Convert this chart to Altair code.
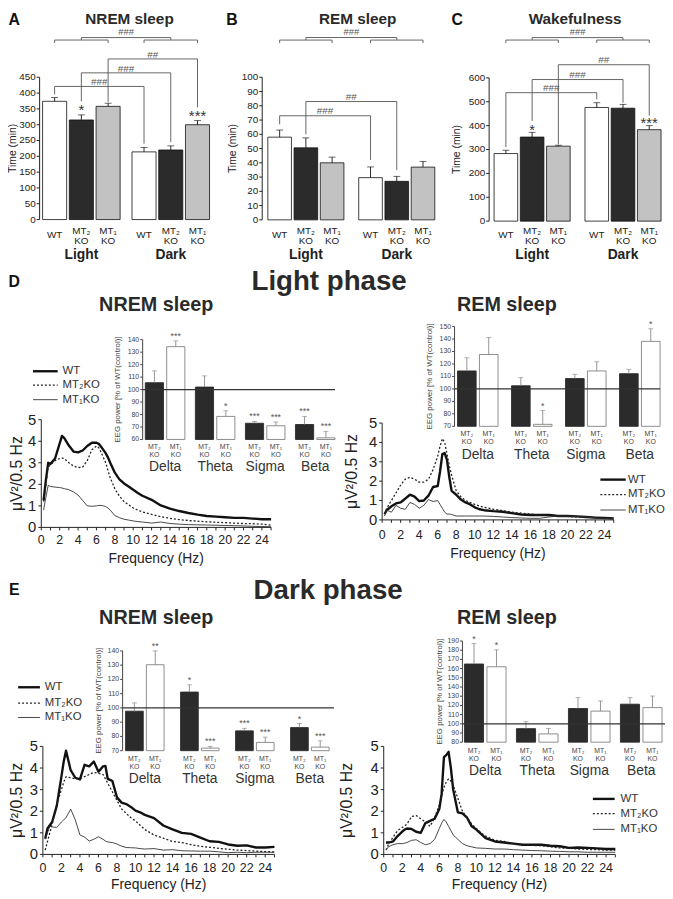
import altair as alt
import pandas as pd

W, H = 665, 891
MARGIN = 8
FONT = "Liberation Sans"
INK = "#222222"


def px(v):
    return v - MARGIN


# ---------------- data: sleep time (min) ----------------
PHASES = ["Light", "Dark"]
GENOTYPES = ["WT", "MT2KO", "MT1KO"]
GENO_TEXT = {"WT": "WT", "MT2KO": "MT₂\nKO", "MT1KO": "MT₁\nKO"}
BAR_FILL = {"WT": "#ffffff", "MT2KO": "#2b2b2b", "MT1KO": "#c2c2c2"}

NREM_TIME = [374, 315, 358, 214, 220, 300]
NREM_SEM = [12, 16, 10, 14, 13, 13]
NREM_SIG = ["", "*", "", "", "", "***"]
REM_TIME = [58, 50.5, 40, 29.6, 27, 37]
REM_SEM = [5, 7, 4, 7.5, 3.5, 4]
REM_SIG = ["", "", "", "", "", ""]
WAKE_TIME = [283, 352, 314, 476, 473, 383]
WAKE_SEM = [14, 20, 4, 20, 16, 17]
WAKE_SIG = ["", "*", "", "", "", "***"]

NREM_COMP = [("WT", "###"), ("MT2KO", "###"), ("MT1KO", "##")]
REM_COMP = [("WT", "###"), ("MT2KO", "##")]
WAKE_COMP = [("WT", "###"), ("MT2KO", "###"), ("MT1KO", "##")]

# ---------------- data: EEG power, % of WT control ----------------
BANDS = ["Delta", "Theta", "Sigma", "Beta"]
KO = ["MT2KO", "MT1KO"]
KO_TEXT = {"MT2KO": "MT₂\nKO", "MT1KO": "MT₁\nKO"}
KO_FILL = {"MT2KO": "#2b2b2b", "MT1KO": "#ffffff"}
KO_STROKE = {"MT2KO": "#2b2b2b", "MT1KO": "#808080"}

LN_MT2 = [105.5, 102, 73, 72]
LN_MT2_SEM = [9.5, 9, 1.5, 6.5]
LN_MT2_SIG = ["", "", "***", "***"]
LN_MT1 = [134.4, 78.5, 71, 61.3]
LN_MT1_SEM = [4.6, 4.5, 3, 5.2]
LN_MT1_SIG = ["***", "*", "***", "***"]

LR_MT2 = [114.4, 102.5, 108.3, 112.2]
LR_MT2_SEM = [10.6, 6.5, 3.4, 3.5]
LR_MT2_SIG = ["", "", "", ""]
LR_MT1 = [127.6, 71.6, 114.4, 138.1]
LR_MT1_SEM = [13.7, 11.1, 7.3, 10.1]
LR_MT1_SIG = ["", "*", "", "*"]

DN_MT2 = [97.7, 111.1, 83.9, 86.2]
DN_MT2_SEM = [5.8, 5.1, 1.8, 2.8]
DN_MT2_SIG = ["", "*", "***", "*"]
DN_MT1 = [130.3, 71.8, 75.8, 72.5]
DN_MT1_SEM = [9.7, 1.2, 3.7, 4.4]
DN_MT1_SIG = ["**", "***", "***", "***"]

DR_MT2 = [165, 94.7, 116.6, 121.3]
DR_MT2_SEM = [22.2, 7.6, 11.8, 7.1]
DR_MT2_SIG = ["*", "", "", ""]
DR_MT1 = [162, 89, 113.8, 117.6]
DR_MT1_SEM = [18.4, 6, 11, 12.6]
DR_MT1_SIG = ["*", "", "", ""]

# ---------------- data: EEG spectra (uV^2 / 0.5 Hz) ----------------
FREQ = [0.25, 0.5, 0.75, 1, 1.5, 2, 2.25, 2.5, 3, 3.5, 4, 4.5, 5, 5.5, 6, 6.25,
        6.5, 6.75, 7, 7.25, 7.5, 8, 8.5, 9, 9.5, 10, 10.5, 11, 12, 13, 14, 15,
        16, 17, 18, 19, 20, 21, 22, 23, 24, 25]
SERIES = ["WT", "MT2KO", "MT1KO"]
SERIES_TEXT = {"WT": "WT", "MT2KO": "MT₂KO", "MT1KO": "MT₁KO"}

LN_WT = [1.25, 2.2, 3.0, 2.95, 3.2, 3.9, 4.25, 4.15, 3.8, 3.52, 3.48, 3.57, 3.78, 3.93,
         3.93, 3.88, 3.75, 3.6, 3.45, 3.25, 3.0, 2.54, 2.23, 2.04, 1.9, 1.75, 1.6, 1.47,
         1.28, 1.02, 0.87, 0.76, 0.67, 0.59, 0.53, 0.5, 0.47, 0.44, 0.44, 0.41, 0.38, 0.38]
LN_M2 = [1.2, 2.0, 2.8, 2.9, 3.1, 3.2, 3.22, 3.2, 3.0, 2.85, 2.78, 2.8, 3.1, 3.6,
         3.78, 3.7, 3.5, 3.25, 3.0, 2.65, 2.3, 1.8, 1.45, 1.2, 1.05, 0.9, 0.8, 0.72,
         0.6, 0.5, 0.42, 0.36, 0.32, 0.29, 0.26, 0.24, 0.22, 0.2, 0.18, 0.17, 0.15, 0.1]
LN_M1 = [0.8, 1.4, 1.95, 1.9, 1.87, 1.85, 1.83, 1.8, 1.75, 1.65, 1.5, 1.25, 1.0, 0.98,
         1.0, 1.02, 1.02, 1.0, 0.97, 0.9, 0.8, 0.55, 0.45, 0.38, 0.34, 0.3, 0.27, 0.25,
         0.2, 0.25, 0.18, 0.15, 0.13, 0.12, 0.11, 0.1, 0.09, 0.08, 0.07, 0.05, 0.04, 0.03]

LR_WT = [0.3, 0.5, 0.6, 0.7, 0.85, 0.9, 1.0, 1.1, 1.3, 1.2, 0.97, 1.0, 1.25, 1.7,
         1.75, 2.5, 3.4, 3.45, 3.1, 2.2, 1.5, 1.3, 1.05, 0.9, 0.8, 0.65, 0.55, 0.5,
         0.45, 0.42, 0.35, 0.28, 0.25, 0.25, 0.25, 0.2, 0.2, 0.18, 0.15, 0.12, 0.1, 0.08]
LR_M2 = [0.3, 0.6, 0.8, 1.0, 1.4, 1.8, 1.95, 2.1, 2.2, 2.1, 1.95, 1.95, 2.1, 2.6,
         3.3, 3.8, 4.2, 4.0, 3.4, 2.8, 2.3, 1.5, 1.2, 1.0, 0.9, 0.8, 0.72, 0.65,
         0.55, 0.48, 0.4, 0.35, 0.3, 0.25, 0.22, 0.2, 0.18, 0.15, 0.14, 0.12, 0.1, 0.1]
LR_M1 = [0.2, 0.5, 0.45, 0.4, 0.75, 0.6, 0.57, 0.55, 0.9, 0.8, 0.6, 0.75, 1.05, 0.95,
         1.0, 0.8, 0.6, 0.4, 0.3, 0.3, 0.28, 0.2, 0.2, 0.2, 0.2, 0.2, 0.2, 0.2,
         0.18, 0.15, 0.12, 0.1, 0.08, 0.08, 0.15, 0.2, 0.2, 0.18, 0.15, 0.1, 0.08, 0.05]

DN_WT = [0.73, 1.2, 1.35, 1.5, 2.25, 3.6, 4.3, 4.8, 3.9, 3.55, 3.47, 4.15, 4.08, 4.3,
         3.83, 3.95, 4.08, 4.1, 3.5, 3.45, 3.4, 2.64, 2.4, 2.33, 2.2, 2.03, 1.95, 1.83,
         1.68, 1.34, 1.16, 1.0, 0.95, 0.78, 0.61, 0.58, 0.46, 0.4, 0.42, 0.32, 0.32, 0.35]
DN_M2 = [0.2, 0.6, 1.0, 1.4, 2.3, 3.0, 3.35, 3.6, 3.55, 3.5, 3.5, 3.6, 3.7, 3.8,
         3.75, 3.72, 3.7, 3.5, 3.3, 3.1, 2.9, 2.5, 2.1, 1.9, 1.7, 1.55, 1.35, 1.15,
         0.9, 0.75, 0.6, 0.55, 0.45, 0.38, 0.33, 0.28, 0.24, 0.2, 0.18, 0.15, 0.13, 0.12]
DN_M1 = [0.7, 1.0, 1.3, 1.27, 1.25, 1.5, 1.6, 1.7, 2.1, 1.6, 0.9, 0.8, 0.62, 0.7,
         0.82, 0.76, 0.7, 0.62, 0.58, 0.56, 0.55, 0.48, 0.38, 0.32, 0.31, 0.3, 0.27, 0.25,
         0.27, 0.2, 0.22, 0.17, 0.16, 0.15, 0.15, 0.12, 0.08, 0.1, 0.08, 0.1, 0.1, 0.1]

DR_WT = [0.55, 0.55, 0.57, 0.6, 0.85, 1.05, 1.15, 1.2, 1.18, 1.05, 1.0, 1.45, 1.55, 1.65,
         2.1, 2.8, 4.5, 4.6, 4.75, 4.0, 3.0, 1.95, 1.9, 1.7, 1.3, 1.15, 0.95, 0.75,
         0.6, 0.55, 0.5, 0.45, 0.45, 0.45, 0.4, 0.38, 0.3, 0.32, 0.3, 0.28, 0.25, 0.25]
DR_M2 = [0.2, 0.45, 0.62, 0.8, 1.1, 1.25, 1.32, 1.4, 1.75, 1.8, 1.65, 1.5, 1.3, 1.7,
         2.3, 2.7, 3.1, 3.35, 3.5, 3.4, 3.2, 2.6, 2.0, 1.7, 1.4, 1.2, 1.0, 0.85,
         0.65, 0.6, 0.5, 0.45, 0.42, 0.4, 0.35, 0.3, 0.28, 0.25, 0.23, 0.22, 0.2, 0.2]
DR_M1 = [0.2, 0.35, 0.4, 0.45, 0.5, 0.5, 0.52, 0.55, 0.65, 0.68, 0.55, 0.45, 0.5, 0.7,
         1.2, 1.45, 1.62, 1.5, 1.3, 1.1, 0.9, 0.7, 0.5, 0.4, 0.35, 0.3, 0.29, 0.28,
         0.25, 0.25, 0.22, 0.2, 0.18, 0.17, 0.15, 0.14, 0.12, 0.12, 0.1, 0.1, 0.1, 0.1]

LINE_STYLE = {
    "WT": dict(color="#111111", strokeWidth=2.4),
    "MT2KO": dict(color="#222222", strokeWidth=1.3, strokeDash=[2, 2]),
    "MT1KO": dict(color="#333333", strokeWidth=0.9),
}

HIDDEN_AXIS = alt.Axis(labels=False, ticks=False, domain=False, grid=False, title="")


# ---------------- hand-built axes (drawn through the panel scales) ----------------
def y_axis(ydom, y0, ytop, axis_x, values, tick_len, label_size, label_gap,
           title, title_size, title_x, color):
    ys = alt.Scale(domain=ydom, range=[px(y0), px(ytop)], nice=False, zero=False)
    xs = alt.Scale(domain=[0, 1], range=[px(axis_x), px(axis_x) + 1], nice=False, zero=False)
    ticks = pd.DataFrame({"v": values, "lab": [f"{v:g}" for v in values]})
    ticks["a"] = -tick_len
    ticks["b"] = 0.0
    ticks["c"] = -(tick_len + label_gap)
    dom = pd.DataFrame({"a": [0.0], "lo": [ydom[0]], "hi": [ydom[1]]})
    ttl = pd.DataFrame({"a": [title_x], "v": [(ydom[0] + ydom[1]) / 2], "t": [title]})

    def X(f):
        return alt.X(f, scale=xs, axis=HIDDEN_AXIS)

    def Y(f):
        return alt.Y(f, scale=ys, axis=HIDDEN_AXIS)

    return alt.layer(
        alt.Chart(dom).mark_rule(color=color, strokeWidth=1).encode(x=X("a:Q"), y=Y("lo:Q"), y2="hi:Q"),
        alt.Chart(ticks).mark_rule(color=color, strokeWidth=1).encode(x=X("a:Q"), x2="b:Q", y=Y("v:Q")),
        alt.Chart(ticks).mark_text(align="right", baseline="middle", fontSize=label_size,
                                   color=color).encode(x=X("c:Q"), y=Y("v:Q"), text="lab:N"),
        alt.Chart(ttl).mark_text(angle=270, align="center", baseline="middle", fontSize=title_size,
                                 color=color).encode(x=X("a:Q"), y=Y("v:Q"), text="t:N"),
    )


def x_axis(xa, xb, y0, label_dy, title_dy, color):
    xs = alt.Scale(domain=[0, 25], range=[px(xa), px(xb)], nice=False, zero=False)
    ys = alt.Scale(domain=[0, 1], range=[px(y0), px(y0) + 1], nice=False, zero=False)
    vals = list(range(0, 26))
    ticks = pd.DataFrame({"v": vals})
    ticks["a"] = 0.0
    ticks["b"] = 3.0
    labs = pd.DataFrame({"v": [v for v in vals if v % 2 == 0 and v < 25]})
    labs["lab"] = labs["v"].astype(str)
    labs["c"] = label_dy
    dom = pd.DataFrame({"lo": [0], "hi": [25], "a": [0.0]})
    ttl = pd.DataFrame({"v": [12.5], "a": [title_dy], "t": ["Frequency (Hz)"]})

    def X(f):
        return alt.X(f, scale=xs, axis=HIDDEN_AXIS)

    def Y(f):
        return alt.Y(f, scale=ys, axis=HIDDEN_AXIS)

    return alt.layer(
        alt.Chart(dom).mark_rule(color=color, strokeWidth=1).encode(x=X("lo:Q"), x2="hi:Q", y=Y("a:Q")),
        alt.Chart(ticks).mark_rule(color=color, strokeWidth=1).encode(x=X("v:Q"), y=Y("a:Q"), y2="b:Q"),
        alt.Chart(labs).mark_text(align="center", baseline="middle", fontSize=12.5,
                                  color=color).encode(x=X("v:Q"), y=Y("c:Q"), text="lab:N"),
        alt.Chart(ttl).mark_text(align="center", baseline="middle", fontSize=14,
                                 color=color).encode(x=X("v:Q"), y=Y("a:Q"), text="t:N"),
    )


# ---------------- panels A-C ----------------
def bar_panel(values, sems, sigs, comps, ymax, ystep, y0, ytop, xa, xb, axis_x, gap,
              comp_levels, top_levels, star_dy, title_x):
    df = pd.DataFrame({
        "phase": [p for p in PHASES for _ in GENOTYPES],
        "geno": GENOTYPES * len(PHASES),
        "mean": values, "sem": sems, "sig": sigs,
    })
    df["upper"] = df["mean"] + df["sem"]
    df["label"] = df["geno"].map(GENO_TEXT)
    df["fill"] = df["geno"].map(BAR_FILL)

    xs = alt.Scale(domain=PHASES, range=[px(xa), px(xb)], paddingInner=gap, paddingOuter=0)
    osc = alt.Scale(domain=GENOTYPES, paddingInner=0.1, paddingOuter=0)
    ys = alt.Scale(domain=[0, ymax], range=[px(y0), px(ytop)], nice=False, zero=False)
    step = (xb - xa) / (2 - gap)

    X = alt.X("phase:N", scale=xs, axis=HIDDEN_AXIS)
    XO = alt.XOffset("geno:N", scale=osc)

    def Y(f):
        return alt.Y(f, scale=ys, axis=HIDDEN_AXIS)

    base = alt.Chart(df)
    bars = base.mark_bar(stroke="#111111", strokeWidth=0.8).encode(
        x=X, xOffset=XO, y=Y("mean:Q"), y2=alt.datum(0),
        fill=alt.Fill("fill:N", scale=None))
    err = base.mark_rule(color="#111111", strokeWidth=0.9).encode(
        x=X, xOffset=XO, y=Y("mean:Q"), y2="upper:Q")
    cap = base.mark_tick(color="#111111", thickness=0.9, size=7, orient="horizontal").encode(
        x=X, xOffset=XO, y=Y("upper:Q"))
    stars = base.mark_text(fontSize=15, color="#333333", baseline="alphabetic", dy=star_dy).encode(
        x=X, xOffset=XO, y=Y("upper:Q"), text="sig:N")
    lab_wt = alt.Chart(df[df.geno == "WT"]).mark_text(
        fontSize=10, baseline="middle", color=INK, dy=232 - y0).encode(
        x=X, xOffset=XO, y=alt.datum(0), text="label:N")
    lab_ko = alt.Chart(df[df.geno != "WT"]).mark_text(
        fontSize=10, lineHeight=9.5, baseline="top", lineBreak="\n", color=INK,
        dy=223.5 - y0).encode(
        x=X, xOffset=XO, y=alt.datum(0), text="label:N")
    gdf = pd.DataFrame({"phase": PHASES, "geno": ["MT2KO", "MT2KO"]})
    groups = alt.Chart(gdf).mark_text(
        fontSize=14, fontWeight="bold", color=INK, baseline="middle", dy=253 - y0).encode(
        x=X, xOffset=XO, y=alt.datum(0), text="phase:N")

    rows, trows = [], []
    for i, ((g, lab), (lo_l, top, lo_d)) in enumerate(zip(comps, comp_levels)):
        for j, (ph, yy) in enumerate([("Light", lo_l), ("Light", top), ("Dark", top), ("Dark", lo_d)]):
            rows.append({"id": f"c{i}", "ord": j, "phase": ph, "geno": g, "y": yy})
        trows.append({"phase": "Light", "geno": g, "y": top, "t": lab})
    small, low, big = top_levels
    for ph in PHASES:
        for j, (g, yy) in enumerate([("WT", low), ("WT", small), ("MT1KO", small), ("MT1KO", low)]):
            rows.append({"id": f"g{ph}", "ord": j, "phase": ph, "geno": g, "y": yy})
    for j, (ph, yy) in enumerate([("Light", small), ("Light", big), ("Dark", big), ("Dark", small)]):
        rows.append({"id": "big", "ord": j, "phase": ph, "geno": "MT2KO", "y": yy})
    brackets = alt.Chart(pd.DataFrame(rows)).mark_line(color="#555555", strokeWidth=0.9).encode(
        x=X, xOffset=XO, y=Y("y:Q"), detail="id:N", order="ord:Q")
    btxt = alt.Chart(pd.DataFrame(trows)).mark_text(
        fontSize=10, color="#555555", baseline="alphabetic", dx=step / 2, dy=-1.3).encode(
        x=X, xOffset=XO, y=Y("y:Q"), text="t:N")
    ttxt = alt.Chart(pd.DataFrame([{"phase": "Light", "geno": "MT2KO", "y": big, "t": "###"}])).mark_text(
        fontSize=9.5, color="#555555", baseline="alphabetic", dx=step / 2, dy=-2.5).encode(
        x=X, xOffset=XO, y=Y("y:Q"), text="t:N")
    panel = alt.layer(bars, err, cap, stars, lab_wt, lab_ko, groups, brackets, btxt, ttxt)
    axis = y_axis([0, ymax], y0, ytop, axis_x, list(range(0, ymax + 1, ystep)), 3, 10, 1,
                  "Time (min)", 10.5, title_x, INK)
    return [panel, axis]


# ---------------- insets ----------------
def inset_panel(m2, m2s, m2g, m1, m1s, m1g, ydom, y0, ytop, xa, xb, axis_x, gap,
                line_end, sub_top, group_y, title_x):
    df = pd.DataFrame({
        "band": BANDS * 2,
        "geno": ["MT2KO"] * 4 + ["MT1KO"] * 4,
        "mean": m2 + m1, "sem": m2s + m1s, "sig": m2g + m1g,
    })
    df["upper"] = df["mean"] + df["sem"]
    df["label"] = df["geno"].map(KO_TEXT)
    df["fill"] = df["geno"].map(KO_FILL)
    df["stroke"] = df["geno"].map(KO_STROKE)

    pad_o = 0.15
    xs = alt.Scale(domain=BANDS, range=[px(xa), px(xb)], paddingInner=gap, paddingOuter=0)
    osc = alt.Scale(domain=KO, paddingInner=pad_o, paddingOuter=0)
    ys = alt.Scale(domain=ydom, range=[px(y0), px(ytop)], nice=False, zero=False)
    X = alt.X("band:N", scale=xs, axis=HIDDEN_AXIS)
    XO = alt.XOffset("geno:N", scale=osc)
    # shift from the centre of the first bar to the centre of the bar pair
    bw = (xb - xa) / (len(BANDS) - gap) * (1 - gap)
    ostep = bw / (2 - pad_o)
    pair_dx = bw / 2 - ostep * (1 - pad_o) / 2

    def Y(f):
        return alt.Y(f, scale=ys, axis=HIDDEN_AXIS)

    base = alt.Chart(df)
    bars = base.mark_bar(strokeWidth=0.9).encode(
        x=X, xOffset=XO, y=Y("mean:Q"), y2=alt.datum(ydom[0]),
        fill=alt.Fill("fill:N", scale=None), stroke=alt.Stroke("stroke:N", scale=None))
    err = base.mark_rule(color="#888888", strokeWidth=0.9).encode(
        x=X, xOffset=XO, y=Y("mean:Q"), y2="upper:Q")
    cap = base.mark_tick(color="#888888", thickness=0.9, size=5, orient="horizontal").encode(
        x=X, xOffset=XO, y=Y("upper:Q"))
    stars = base.mark_text(fontSize=9, color="#555555", baseline="alphabetic", dy=-2).encode(
        x=X, xOffset=XO, y=Y("upper:Q"), text="sig:N")
    labels = base.mark_text(fontSize=7, lineHeight=8.5, baseline="top", lineBreak="\n",
                            color="#444444", dy=sub_top - y0).encode(
        x=X, xOffset=XO, y=alt.datum(ydom[0]), text="label:N")
    gdf = pd.DataFrame({"band": BANDS, "geno": ["MT2KO"] * len(BANDS)})
    groups = alt.Chart(gdf).mark_text(
        fontSize=14, color="#333333", baseline="middle", dx=pair_dx, dy=group_y - y0).encode(
        x=X, xOffset=XO, y=alt.datum(ydom[0]), text="band:N")
    inset = alt.layer(bars, err, cap, stars, labels, groups)

    ref = alt.Chart(pd.DataFrame({"a": [0], "b": [1], "v": [100]})).mark_rule(
        color="#333333", strokeWidth=1.2).encode(
        x=alt.X("a:Q", scale=alt.Scale(domain=[0, 1], range=[px(axis_x), px(line_end)]), axis=HIDDEN_AXIS),
        x2="b:Q", y=Y("v:Q"))
    axis = y_axis(ydom, y0, ytop, axis_x, list(range(ydom[0], ydom[1] + 1, 10)), 2.5, 7, 1,
                  "EEG power [% of WT(control)]", 8, title_x, "#444444")
    return [inset, ref, axis]


# ---------------- spectra ----------------
def line_panel(wt, m2, m1, xa, xb, y0, y5, leg_x0, leg_x1, leg_xt, leg_ys,
               ytitle_x, label_dy, title_dy):
    xs = alt.Scale(domain=[0, 25], range=[px(xa), px(xb)], nice=False, zero=False)
    ys = alt.Scale(domain=[0, 5], range=[px(y0), px(y5)], nice=False, zero=False)
    layers = []
    for name, vals in zip(SERIES, [wt, m2, m1]):
        d = pd.DataFrame({"f": FREQ, "v": vals})
        layers.append(alt.Chart(d).mark_line(strokeJoin="round", **LINE_STYLE[name]).encode(
            x=alt.X("f:Q", scale=xs, axis=HIDDEN_AXIS), y=alt.Y("v:Q", scale=ys, axis=HIDDEN_AXIS)))
    leg = pd.DataFrame({"s": SERIES, "t": [SERIES_TEXT[s] for s in SERIES],
                        "x0": leg_x0, "x1": leg_x1, "xt": leg_xt, "y": leg_ys})
    for name in SERIES:
        layers.append(alt.Chart(leg[leg.s == name]).mark_rule(**LINE_STYLE[name]).encode(
            x=alt.X("x0:Q", scale=xs, axis=HIDDEN_AXIS), x2="x1:Q",
            y=alt.Y("y:Q", scale=ys, axis=HIDDEN_AXIS)))
    layers.append(alt.Chart(leg).mark_text(fontSize=11.5, align="left", baseline="middle",
                                           color="#333333").encode(
        x=alt.X("xt:Q", scale=xs, axis=HIDDEN_AXIS), y=alt.Y("y:Q", scale=ys, axis=HIDDEN_AXIS),
        text="t:N"))
    lines = alt.layer(*layers)
    yax = y_axis([0, 5], y0, y5, xa, [0, 1, 2, 3, 4, 5], 3, 15, 2, "μV²/0.5 Hz", 16, ytitle_x, INK)
    xax = x_axis(xa, xb, y0, label_dy, title_dy, INK)
    return [lines, yax, xax]


panel_a = bar_panel(NREM_TIME, NREM_SEM, NREM_SIG, NREM_COMP, 450, 50, 216.7, 72.7, 43, 212, 40,
                    0.1326, [(396, 421, 240), (374, 464, 245), (372, 508, 355)],
                    (567.8, 558.4, 575.6), 0, -27)
panel_b = bar_panel(REM_TIME, REM_SEM, REM_SIG, REM_COMP, 100, 10, 217, 72.7, 271, 440, 265.3,
                    0.163, [(67, 73, 42), (60, 83, 35)],
                    (126.1, 124.0, 127.9), 0, -30)
panel_c = bar_panel(WAKE_TIME, WAKE_SEM, WAKE_SIG, WAKE_COMP, 600, 100, 218.3, 73.3, 500, 669, 495,
                    0.163, [(310, 538, 510), (420, 593, 496), (322, 655, 442)],
                    (758.4, 746.0, 768.7), 2.5, -32)

inset_dl = inset_panel(LN_MT2, LN_MT2_SEM, LN_MT2_SIG, LN_MT1, LN_MT1_SEM, LN_MT1_SIG,
                       [60, 140], 439.3, 338.3, 147, 339, 144.3, 0.21, 339, 442.5, 467.5, -25)
inset_dr = inset_panel(LR_MT2, LR_MT2_SEM, LR_MT2_SIG, LR_MT1, LR_MT1_SEM, LR_MT1_SIG,
                       [70, 150], 426, 325, 463, 668, 460, 0.25, 668, 429.5, 455.5, -25)
inset_el = inset_panel(DN_MT2, DN_MT2_SEM, DN_MT2_SIG, DN_MT1, DN_MT1_SEM, DN_MT1_SIG,
                       [70, 140], 754.3, 653.3, 127, 333, 124, 0.30, 338, 758.5, 783.5, -24)
inset_er = inset_panel(DR_MT2, DR_MT2_SEM, DR_MT2_SIG, DR_MT1, DR_MT1_SEM, DR_MT1_SIG,
                       [80, 190], 745.7, 643.3, 470, 670, 468, 0.20, 673, 750.5, 774.5, -23)

line_dl = line_panel(LN_WT, LN_M2, LN_M1, 41.7, 274.3, 528.3, 419.3,
                     -0.9, 1.78, 2.32, [7.25, 6.61, 5.93], -25, 13.2, 31.7)
line_dr = line_panel(LR_WT, LR_M2, LR_M1, 386.7, 621.1, 520.7, 422.7,
                     23.56, 26.29, 26.55, [2.08, 1.31, 0.51], -30, 15, 35)
line_el = line_panel(DN_WT, DN_M2, DN_M1, 43.3, 277.7, 859.3, 750,
                     -2.67, -0.32, 0.21, [7.74, 7.01, 6.34], -26.5, 13.7, 30.7)
line_er = line_panel(DR_WT, DR_M2, DR_M1, 388.3, 622.7, 859.3, 750,
                     22.58, 24.93, 25.57, [2.57, 1.89, 1.16], -37, 13.7, 30.7)

# ---------------- titles and panel letters ----------------
LETTERS = pd.DataFrame({
    "t": ["A", "B", "C", "D", "E"],
    "x": [px(8.5), px(229), px(457), px(8.5), px(9)],
    "y": [px(14.5), px(14.5), px(14.5), px(280), px(592)],
})
HEADS = pd.DataFrame({
    "t": ["NREM sleep", "REM sleep", "Wakefulness", "Light phase", "NREM sleep", "REM sleep",
          "Dark phase", "NREM sleep", "REM sleep"],
    "x": [px(131), px(362), px(582), px(333), px(158), px(513), px(332), px(158), px(513)],
    "y": [px(14), px(14), px(14), px(280), px(303), px(303), px(593), px(620), px(620)],
    "s": [15.5, 15.5, 15.5, 28, 20, 20, 28, 20, 20],
})
letters = alt.Chart(LETTERS).mark_text(fontSize=16, fontWeight="bold", align="left",
                                       baseline="middle", color="#111111").encode(
    x=alt.X("x:Q", scale=None, axis=None), y=alt.Y("y:Q", scale=None, axis=None), text="t:N")
heads = alt.Chart(HEADS).mark_text(fontWeight="bold", align="center", baseline="middle",
                                   color="#2a2a2a").encode(
    x=alt.X("x:Q", scale=None, axis=None), y=alt.Y("y:Q", scale=None, axis=None),
    text="t:N", size=alt.Size("s:Q", scale=None))

chart = alt.layer(
    *panel_a, *panel_b, *panel_c,
    *line_dl, *inset_dl, *line_dr, *inset_dr,
    *line_el, *inset_el, *line_er, *inset_er,
    letters, heads,
).resolve_scale(
    x="independent", y="independent", xOffset="independent"
).properties(
    width=W, height=H, padding=0, autosize=alt.AutoSizeParams(type="none")
).configure(font=FONT).configure_view(stroke=None)

chart.save("out.html", embed_options={"renderer": "svg", "actions": False})
